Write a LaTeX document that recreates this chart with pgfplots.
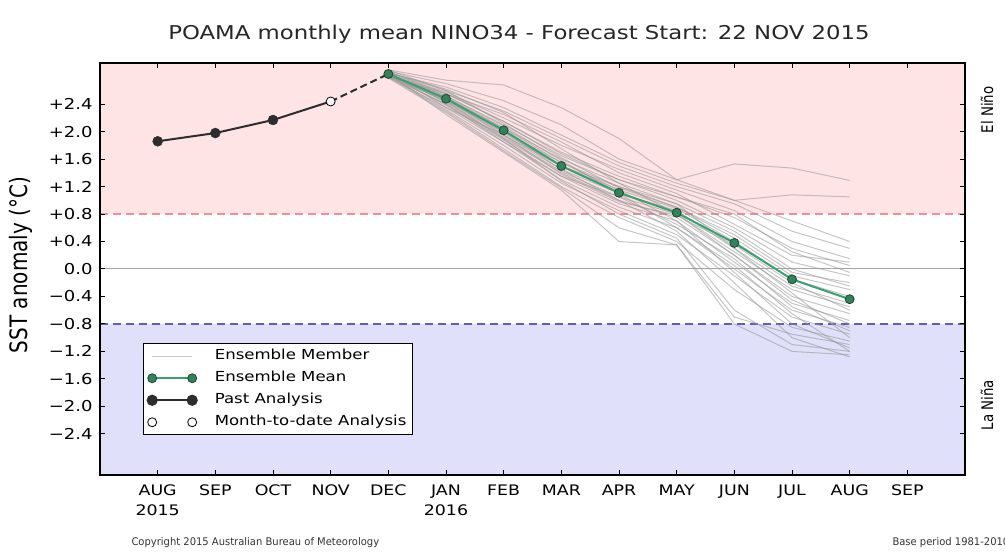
\documentclass[border=0pt]{standalone}
\usepackage{fontspec}
\setmainfont{DejaVu Sans}[FakeStretch=1.2]
\newfontfamily\rotfont{DejaVu Sans}[FakeStretch=0.833]
\newfontfamily\footfont{DejaVu Sans}[FakeStretch=0.95]
\usepackage{pgfplots}
\pgfplotsset{compat=1.18}
\definecolor{pinkbg}{RGB}{255,228,230}
\definecolor{bluebg}{RGB}{224,224,250}
\definecolor{reddash}{RGB}{236,145,155}
\definecolor{bluedash}{RGB}{95,95,185}
\definecolor{zerogray}{RGB}{165,165,165}
\definecolor{ensgray}{RGB}{150,150,150}
\definecolor{meanline}{RGB}{60,160,110}
\definecolor{meanfill}{RGB}{50,130,90}
\definecolor{meanedge}{RGB}{30,70,50}
\definecolor{pastc}{RGB}{45,45,45}
\newcommand{\mem}[9]{\addplot[ensgray, opacity=0.55, line width=1bp, forget plot] coordinates {(4,#1)(5,#2)(6,#3)(7,#4)(8,#5)(9,#6)(10,#7)(11,#8)(12,#9)};}
\begin{document}
\begin{tikzpicture}
\path[use as bounding box] (-100bp,-78bp) rectangle (905bp,475bp);
\begin{axis}[
  scale only axis, width=865bp, height=412bp,
  xmin=-1, xmax=14, ymin=-3, ymax=3,
  xtick={0,1,2,3,4,5,6,7,8,9,10,11,12,13},
  xticklabels={{AUG\\2015},SEP,OCT,NOV,DEC,{JAN\\2016},FEB,MAR,APR,MAY,JUN,JUL,AUG,SEP},
  xticklabel style={align=center, font=\fontsize{14.5bp}{20bp}\selectfont, yshift=-6bp},
  ytick={-2.4,-2,-1.6,-1.2,-0.8,-0.4,0,0.4,0.8,1.2,1.6,2,2.4},
  yticklabels={−2.4,−2.0,−1.6,−1.2,−0.8,−0.4,0.0,+0.4,+0.8,+1.2,+1.6,+2.0,+2.4},
  yticklabel style={font=\fontsize{15bp}{17bp}\selectfont, xshift=-4bp},
  tick align=inside, major tick length=5bp,
  axis line style={line width=1.5bp},
  tick style={line width=1bp, black},
  axis on top,
  legend style={at={(0.0497,0.320)}, anchor=north west, draw=black, line width=1.2bp, fill=white,
    font=\fontsize{13.8bp}{15bp}\selectfont, inner sep=3bp, row sep=3bp,
    nodes={inner sep=3bp, text height=10bp, text depth=3bp},
    /tikz/every odd column/.append style={column sep=14bp}},
  legend cell align=left,
]
% backgrounds
\addplot[fill=pinkbg, draw=none, forget plot] coordinates {(-1,0.8)(14,0.8)(14,3)(-1,3)(-1,0.8)};
\addplot[fill=bluebg, draw=none, forget plot] coordinates {(-1,-3)(14,-3)(14,-0.8)(-1,-0.8)(-1,-3)};
\addplot[reddash, line width=1.5bp, dash pattern=on 8bp off 5bp, forget plot] coordinates {(-1,0.8)(14,0.8)};
\addplot[bluedash, line width=1.5bp, dash pattern=on 8bp off 5bp, forget plot] coordinates {(-1,-0.8)(14,-0.8)};
\addplot[zerogray, line width=1bp, forget plot] coordinates {(-1,0)(14,0)};
% ensemble members
\mem{2.90}{2.75}{2.68}{2.35}{1.90}{1.30}{1.00}{0.70}{0.40}
\mem{2.88}{2.70}{2.45}{2.10}{1.60}{1.30}{1.53}{1.47}{1.29}
\mem{2.85}{2.65}{2.35}{1.95}{1.55}{1.25}{1.00}{1.08}{1.05}
\mem{2.86}{2.60}{2.30}{1.90}{1.50}{1.20}{0.95}{0.55}{0.30}
\mem{2.83}{2.58}{2.20}{1.80}{1.45}{1.15}{0.85}{0.40}{0.15}
\mem{2.80}{2.55}{2.15}{1.70}{1.35}{1.05}{0.75}{0.30}{0.05}
\mem{2.87}{2.52}{2.10}{1.65}{1.30}{1.00}{0.60}{0.10}{-0.10}
\mem{2.84}{2.50}{2.05}{1.60}{1.25}{0.95}{0.55}{0.00}{-0.25}
\mem{2.82}{2.48}{2.00}{1.55}{1.20}{0.90}{0.45}{-0.10}{-0.30}
\mem{2.85}{2.46}{1.98}{1.50}{1.15}{0.88}{0.40}{-0.15}{-0.40}
\mem{2.83}{2.44}{1.95}{1.45}{1.10}{0.85}{0.30}{-0.25}{-0.50}
\mem{2.86}{2.42}{1.92}{1.42}{1.05}{0.80}{0.25}{-0.30}{-0.55}
\mem{2.81}{2.40}{1.90}{1.40}{1.00}{0.75}{0.20}{-0.40}{-0.65}
\mem{2.84}{2.38}{1.88}{1.35}{0.95}{0.70}{0.10}{-0.50}{-0.75}
\mem{2.79}{2.35}{1.85}{1.30}{0.90}{0.60}{0.00}{-0.60}{-0.85}
\mem{2.82}{2.32}{1.80}{1.25}{0.85}{0.50}{-0.10}{-0.70}{-0.95}
\mem{2.80}{2.30}{1.75}{1.20}{0.75}{0.40}{-0.30}{-0.85}{-1.05}
\mem{2.78}{2.28}{1.72}{1.18}{0.60}{0.35}{-0.70}{-0.95}{-1.10}
\mem{2.85}{2.25}{1.70}{1.15}{0.40}{0.35}{-0.80}{-1.20}{-1.25}
\mem{2.88}{2.55}{2.25}{1.85}{1.40}{1.10}{0.65}{0.20}{0.10}
\mem{2.86}{2.62}{2.28}{1.75}{1.25}{0.80}{0.20}{-0.45}{-0.80}
\mem{2.83}{2.50}{2.05}{1.55}{1.15}{0.70}{-0.05}{-0.80}{-1.15}
\mem{2.81}{2.45}{2.00}{1.45}{1.00}{0.55}{-0.20}{-1.00}{-1.28}
\mem{2.90}{2.60}{2.12}{1.62}{1.18}{0.90}{0.50}{-0.05}{-0.20}
\mem{2.84}{2.48}{1.95}{1.38}{0.98}{0.78}{0.35}{-0.20}{-0.60}
\mem{2.80}{2.40}{1.85}{1.35}{1.05}{0.65}{0.15}{-0.55}{-0.90}
\mem{2.87}{2.35}{1.95}{1.50}{1.20}{0.95}{0.30}{-0.35}{-1.00}
\mem{2.83}{2.52}{2.08}{1.58}{1.10}{0.60}{0.05}{-0.65}{-1.20}
\mem{2.86}{2.44}{1.90}{1.28}{0.80}{0.45}{-0.60}{-1.10}{-1.20}
\mem{2.82}{2.56}{2.15}{1.68}{1.30}{1.05}{0.80}{0.25}{-0.05}
% past analysis
\addplot[pastc, line width=2bp, forget plot] coordinates {(0,1.86)(1,1.98)(2,2.17)(3,2.44)};
\addplot[pastc, line width=2bp, dash pattern=on 7bp off 4bp, forget plot] coordinates {(3,2.44)(4,2.84)};
% ensemble mean
\addplot[meanline, line width=2bp, mark=*, mark size=4.5bp, mark options={fill=meanfill, draw=meanedge, line width=0.8bp, solid}, forget plot]
  coordinates {(4,2.84)(5,2.48)(6,2.02)(7,1.50)(8,1.11)(9,0.82)(10,0.38)(11,-0.15)(12,-0.44)};
\addplot[only marks, mark=*, mark size=5bp, mark options={fill=pastc, draw=pastc}, forget plot]
  coordinates {(0,1.86)(1,1.98)(2,2.17)};
\addplot[only marks, mark=*, mark size=4.5bp, mark options={fill=white, draw=black, line width=0.8bp}, forget plot]
  coordinates {(3,2.44)};
% legend
\addlegendimage{legend image code/.code={\draw[ensgray!50, line width=1bp] (0bp,0bp) -- (40bp,0bp);}}
\addlegendentry{Ensemble Member}
\addlegendimage{legend image code/.code={\draw[meanline, line width=2bp] (0bp,0bp) -- (40bp,0bp); \filldraw[fill=meanfill, draw=meanedge, line width=0.8bp] (0bp,0bp) circle (4.5bp) (40bp,0bp) circle (4.5bp);}}
\addlegendentry{Ensemble Mean}
\addlegendimage{legend image code/.code={\draw[pastc, line width=2bp] (0bp,0bp) -- (40bp,0bp); \fill[pastc] (0bp,0bp) circle (5bp) (40bp,0bp) circle (5bp);}}
\addlegendentry{Past Analysis}
\addlegendimage{legend image code/.code={\filldraw[fill=white, draw=black, line width=0.8bp] (0bp,0bp) circle (4.5bp) (40bp,0bp) circle (4.5bp);}}
\addlegendentry{Month-to-date Analysis}
\end{axis}
\node[anchor=base, font=\fontsize{19bp}{22bp}\selectfont, text=black!85] at (419bp,435bp) {POAMA monthly mean NINO34 - Forecast Start: 22 NOV 2015};
\node[rotate=90, font=\rotfont\fontsize{24bp}{26bp}\selectfont] at (-79bp,210bp) {SST anomaly (°C)};
\node[rotate=90, font=\rotfont\fontsize{16bp}{18bp}\selectfont] at (887bp,365bp) {El Niño};
\node[rotate=90, font=\rotfont\fontsize{16bp}{18bp}\selectfont] at (887bp,70bp) {La Niña};
\node[anchor=base west, font=\footfont\fontsize{10.5bp}{12bp}\selectfont, text=black!80] at (28bp,-70bp) {Copyright 2015 Australian Bureau of Meteorology};
\node[anchor=base west, font=\footfont\fontsize{10.5bp}{12bp}\selectfont, text=black!80] at (789bp,-70bp) {Base period 1981-2010};
\end{tikzpicture}
\end{document}
